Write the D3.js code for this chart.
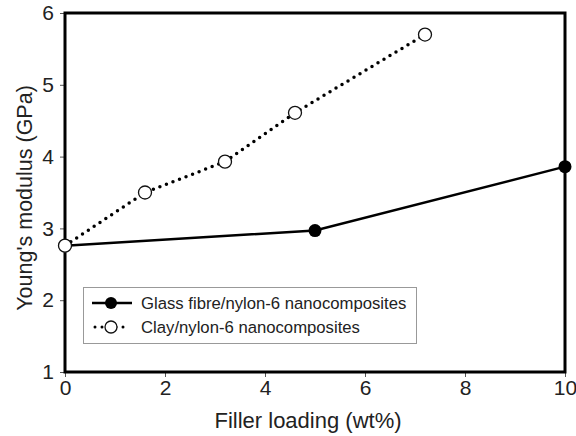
<!DOCTYPE html>
<html>
<head>
<meta charset="utf-8">
<script src="https://cdn.jsdelivr.net/npm/d3@7"></script>
<style>
  body { margin: 0; background: #fff; }
  svg { font-family: "Liberation Sans", Arial, sans-serif; }
</style>
</head>
<body>
<svg id="chart" width="576" height="436"></svg>
<script>
// data
const glassX = [0, 5, 10];
const glassY = [2.76, 2.97, 3.86];
const clayX = [0, 1.6, 3.2, 4.6, 7.2];
const clayY = [2.76, 3.5, 3.93, 4.61, 5.7];
const xTicks = [0, 2, 4, 6, 8, 10];
const yTicks = [1, 2, 3, 4, 5, 6];
const seriesNames = ["Glass fibre/nylon-6 nanocomposites", "Clay/nylon-6 nanocomposites"];

const svg = d3.select('#chart');
const x = d3.scaleLinear().domain([0, 10]).range([65, 565]);
const y = d3.scaleLinear().domain([1, 6]).range([372, 13]);

// axes (ticks + labels)
const xAxis = svg.append('g')
  .attr('transform', 'translate(0,372)')
  .call(d3.axisBottom(x).tickValues(xTicks).tickSize(5).tickPadding(3).tickFormat(d3.format('d')));
const yAxis = svg.append('g')
  .attr('transform', 'translate(65,0)')
  .call(d3.axisLeft(y).tickValues(yTicks).tickSize(5).tickPadding(6).tickFormat(d3.format('d')));
[xAxis, yAxis].forEach(g => {
  g.select('.domain').remove();
  g.selectAll('.tick line').attr('stroke', '#555').attr('stroke-width', 1);
  g.selectAll('.tick text').attr('fill', '#222').style('font-size', '21px')
    .style('font-family', '"Liberation Sans", Arial, sans-serif');
});

// frame
svg.append('rect')
  .attr('x', x(0)).attr('y', y(6))
  .attr('width', x(10) - x(0)).attr('height', y(1) - y(6))
  .attr('fill', 'none').attr('stroke', '#000').attr('stroke-width', 3);

const line = d3.line().x(d => x(d[0])).y(d => y(d[1]));
const glass = glassX.map((v, i) => [v, glassY[i]]);
const clay = clayX.map((v, i) => [v, clayY[i]]);

// clay: dotted with open circles
svg.append('path').datum(clay).attr('d', line)
  .attr('fill', 'none').attr('stroke', '#000').attr('stroke-width', 3.5)
  .attr('stroke-linecap', 'round').attr('stroke-dasharray', '0 7');

// glass: solid with filled circles
svg.append('path').datum(glass).attr('d', line)
  .attr('fill', 'none').attr('stroke', '#000').attr('stroke-width', 2.5);

svg.selectAll('.gdot').data(glass).enter().append('circle')
  .attr('cx', d => x(d[0])).attr('cy', d => y(d[1])).attr('r', 6.5)
  .attr('fill', '#000');

svg.selectAll('.cdot').data(clay).enter().append('circle')
  .attr('cx', d => x(d[0])).attr('cy', d => y(d[1])).attr('r', 6.5)
  .attr('fill', '#fff').attr('stroke', '#111').attr('stroke-width', 1.3);

// legend
const lg = svg.append('g');
lg.append('rect').attr('x', 83.5).attr('y', 287.5).attr('width', 333).attr('height', 56)
  .attr('fill', '#fff').attr('stroke', '#999').attr('stroke-width', 1);
lg.append('line').attr('x1', 92).attr('x2', 132).attr('y1', 303).attr('y2', 303)
  .attr('stroke', '#000').attr('stroke-width', 2.5);
lg.append('circle').attr('cx', 111).attr('cy', 303).attr('r', 6).attr('fill', '#000');
lg.append('line').attr('x1', 95).attr('x2', 128).attr('y1', 327).attr('y2', 327)
  .attr('stroke', '#000').attr('stroke-width', 3).attr('stroke-linecap', 'round')
  .attr('stroke-dasharray', '0 7');
lg.append('circle').attr('cx', 111).attr('cy', 327).attr('r', 6)
  .attr('fill', '#fff').attr('stroke', '#111').attr('stroke-width', 1.3);
lg.selectAll('.lt').data(seriesNames).enter().append('text')
  .attr('x', 141).attr('y', (d, i) => 303 + i * 24).attr('dy', '0.35em')
  .style('font-size', '16.7px').attr('fill', '#222').text(d => d);

// axis titles
svg.append('text').attr('x', 308).attr('y', 428).attr('text-anchor', 'middle')
  .style('font-size', '22px').attr('fill', '#222').text('Filler loading (wt%)');
svg.append('text').attr('transform', 'translate(32,198) rotate(-90)').attr('text-anchor', 'middle')
  .style('font-size', '21.5px').attr('fill', '#222').text("Young's modulus (GPa)");
</script>
</body>
</html>
